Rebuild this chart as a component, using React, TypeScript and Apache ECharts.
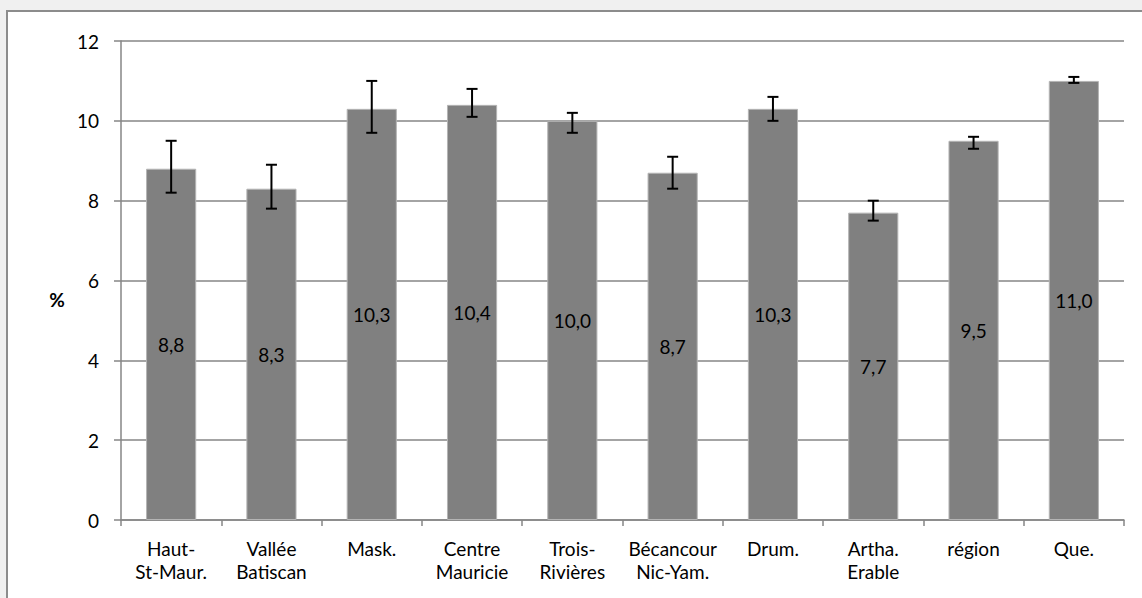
import React, { useEffect, useRef } from "react";
import * as echarts from "echarts";

const categories = [
  "Haut-\nSt-Maur.",
  "Vallée\nBatiscan",
  "Mask.",
  "Centre\nMauricie",
  "Trois-\nRivières",
  "Bécancour\nNic-Yam.",
  "Drum.",
  "Artha.\nErable",
  "région",
  "Que.",
];
const values = [8.8, 8.3, 10.3, 10.4, 10.0, 8.7, 10.3, 7.7, 9.5, 11.0];
const errLow = [8.2, 7.8, 9.7, 10.1, 9.7, 8.3, 10.0, 7.5, 9.3, 10.95];
const errHigh = [9.5, 8.9, 11.0, 10.8, 10.2, 9.1, 10.6, 8.0, 9.6, 11.1];
const yTicks = [0, 2, 4, 6, 8, 10, 12];
const yAxisName = "%";

const FONT = "Lato, 'Open Sans', sans-serif";
const FS = 19;

export default function App() {
  const ref = useRef<HTMLDivElement>(null);
  useEffect(() => {
    if (!ref.current) return;
    const chart = echarts.init(ref.current, undefined, { renderer: "svg" });
    const errData = categories.map((_, i) => [i, errLow[i], errHigh[i]]);
    chart.setOption({
      animation: false,
      backgroundColor: "transparent",
      textStyle: { fontFamily: FONT },
      grid: { left: 121, top: 41, right: 18, bottom: 78, containLabel: false },
      graphic: [
        {
          type: "text",
          x: 57,
          y: 299,
          style: {
            text: yAxisName,
            font: `bold ${FS}px ${FONT}`,
            fill: "#000",
            align: "center",
            verticalAlign: "middle",
          },
        },
      ],
      xAxis: {
        type: "category",
        data: categories,
        boundaryGap: true,
        axisLine: { show: true, lineStyle: { color: "#868686", width: 1.5 } },
        axisTick: { show: true, length: 6, lineStyle: { color: "#868686", width: 1.5 } },
        axisLabel: {
          color: "#000",
          fontSize: FS,
          fontFamily: FONT,
          lineHeight: 23,
          margin: 17,
          interval: 0,
        },
        splitLine: { show: false },
      },
      yAxis: {
        type: "value",
        min: yTicks[0],
        max: yTicks[yTicks.length - 1],
        interval: 2,
        axisLine: { show: true, lineStyle: { color: "#868686", width: 1.5 } },
        axisTick: { show: true, length: 7, lineStyle: { color: "#868686", width: 1.5 } },
        axisLabel: { color: "#000", fontSize: FS, fontFamily: FONT, margin: 22 },
        splitLine: { show: true, lineStyle: { color: "#868686", width: 1.5 } },
      },
      series: [
        {
          type: "bar",
          data: values,
          barWidth: "50%",
          itemStyle: { color: "#808080", borderColor: "#b4b4b4", borderWidth: 1 },
          label: {
            show: true,
            position: "inside",
            color: "#000",
            fontSize: FS,
            fontFamily: FONT,
            formatter: (p: any) => Number(p.value).toFixed(1).replace(".", ","),
          },
          z: 2,
        },
        {
          type: "custom",
          data: errData,
          z: 5,
          renderItem: (params: any, api: any) => {
            const idx = api.value(0);
            const lo = api.coord([idx, api.value(1)]);
            const hi = api.coord([idx, api.value(2)]);
            const hw = 5.5;
            const style = { stroke: "#000", lineWidth: 2 };
            return {
              type: "group",
              children: [
                { type: "line", shape: { x1: lo[0], y1: lo[1], x2: hi[0], y2: hi[1] }, style },
                { type: "line", shape: { x1: lo[0] - hw, y1: lo[1], x2: lo[0] + hw, y2: lo[1] }, style },
                { type: "line", shape: { x1: hi[0] - hw, y1: hi[1], x2: hi[0] + hw, y2: hi[1] }, style },
              ],
            };
          },
        },
      ],
    });
    return () => chart.dispose();
  }, []);

  return (
    <div
      style={{
        position: "fixed",
        left: 0,
        top: 0,
        width: 1142,
        height: 598,
        background: "#f0f0f0",
        overflow: "hidden",
      }}
    >
      <div
        style={{
          position: "absolute",
          left: 6,
          top: 10,
          width: 1160,
          height: 620,
          background: "#fff",
          border: "2px solid #8c8c8c",
          boxSizing: "border-box",
        }}
      />
      <div ref={ref} style={{ position: "absolute", left: 0, top: 0, width: 1142, height: 598 }} />
    </div>
  );
}
